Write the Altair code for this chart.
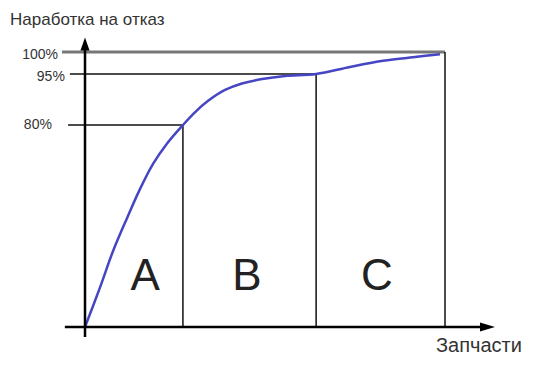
import altair as alt
import pandas as pd

# Cumulative curve (share of parts %, cumulative MTBF %)
curve_share = [0, 4.2, 7.8, 11.7, 15.3, 18.9, 22.8, 27.2, 30.6, 34.2, 38.9, 43.6, 49.2, 55.6, 64.2, 73.6, 82.8, 92.2, 98.6]
curve_mtbf = [0, 15.8, 30.1, 43.2, 54.7, 64.6, 72.7, 80, 83.8, 87.1, 90.3, 92.2, 93.5, 94.4, 95, 96.6, 98.0, 98.9, 99.5]

# Threshold levels and ABC boundaries
levels = [80, 95, 100]
level_labels = ["80%", "95%", "100%"]
level_line_start = [-4.7, -4.2, -6.4]
level_label_x = [-9.2, -5.6, -7.5]
level_label_y = [80, 94.1, 99.3]
boundaries = [27.2, 64.2, 100]

classes = ["A", "B", "C"]
class_x = [16.7, 45.0, 81.1]
class_y = [14.7, 14.7, 14.7]

x_axis_span = [-5.6, 111.0]
y_axis_span = [-4.0, 101.5]
x_arrow = [111.8, 0]
y_arrow = [0, 101.8]

title_text = "Наработка на отказ"
xlabel_text = "Запчасти"

curve = pd.DataFrame({"share": curve_share, "mtbf": curve_mtbf})
lv = pd.DataFrame({"level": levels, "label": level_labels, "start": level_line_start,
                   "lx": level_label_x, "ly": level_label_y, "end": boundaries, "zero": [0, 0, 0]})
cls = pd.DataFrame({"cls": classes, "cx": class_x, "cy": class_y})

xs = alt.Scale(domain=[0, 100], range=[77, 437], nice=False, zero=False)
ys = alt.Scale(domain=[0, 80, 95, 100], range=[319, 117, 66, 44], nice=False, zero=False)

def X(f):
    return alt.X(f, type="quantitative", scale=xs, axis=None)

def Y(f):
    return alt.Y(f, type="quantitative", scale=ys, axis=None)

lv_main = lv[lv["level"] < 100]
lv_top = lv[lv["level"] == 100]

hrules = alt.Chart(lv_main).mark_rule(color="#111", strokeWidth=1.5).encode(
    x=X("start"), x2="end", y=Y("level"))
hrule_top = alt.Chart(lv_top).mark_rule(color="#777", strokeWidth=3).encode(
    x=X("start"), x2="end", y=Y("level"))
vrules = alt.Chart(lv).mark_rule(color="#111", strokeWidth=1.5).encode(
    x=X("end"), y=Y("zero"), y2="level")

axes_df = pd.DataFrame({"x0": [x_axis_span[0], 0], "x1": [x_axis_span[1], 0],
                        "y0": [0, y_axis_span[0]], "y1": [0, y_axis_span[1]]})
axes = alt.Chart(axes_df).mark_rule(color="#000", strokeWidth=2.5).encode(
    x=X("x0"), x2="x1", y=Y("y0"), y2="y1")

arrow_df = pd.DataFrame({"ax": [x_arrow[0]], "ay": [x_arrow[1]]})
arrow_x = alt.Chart(arrow_df).mark_point(
    shape="M-1,-0.6L-1,0.6L1,0Z", size=225, filled=True, color="#000", opacity=1
).encode(x=X("ax"), y=Y("ay"))
arrow_df2 = pd.DataFrame({"ax": [y_arrow[0]], "ay": [y_arrow[1]]})
arrow_y = alt.Chart(arrow_df2).mark_point(
    shape="M-0.7,1L0.7,1L0,-1Z", size=169, filled=True, color="#000", opacity=1
).encode(x=X("ax"), y=Y("ay"))

line = alt.Chart(curve).mark_line(color="#4646c4", strokeWidth=2.5, interpolate="catmull-rom").encode(
    x=X("share"), y=Y("mtbf"))

lv_text = alt.Chart(lv).mark_text(align="right", baseline="middle", fontSize=14,
                                  font="Liberation Sans", color="#333").encode(
    x=X("lx"), y=Y("ly"), text="label")

cls_text = alt.Chart(cls).mark_text(align="center", baseline="alphabetic", fontSize=44,
                                    font="Liberation Sans", color="#222").encode(
    x=X("cx"), y=Y("cy"), text="cls")

title = alt.Chart(pd.DataFrame({"t": [title_text]})).mark_text(
    align="left", baseline="middle", fontSize=17, font="Liberation Sans", color="#333"
).encode(x=alt.value(2), y=alt.value(12), text="t")

xlabel = alt.Chart(pd.DataFrame({"t": [xlabel_text]})).mark_text(
    align="left", baseline="alphabetic", fontSize=20, font="Liberation Sans", color="#333"
).encode(x=alt.value(428), y=alt.value(344), text="t")

chart = alt.layer(hrule_top, hrules, vrules, line, axes, arrow_x, arrow_y,
                  lv_text, cls_text, title, xlabel).properties(
    width=528, height=350, autosize=alt.AutoSizeParams(type="none"),
    padding={"left": 0, "right": 0, "top": 0, "bottom": 0}
).configure_view(strokeWidth=0)

chart.save("out.html", embed_options={"renderer": "svg", "actions": False})
